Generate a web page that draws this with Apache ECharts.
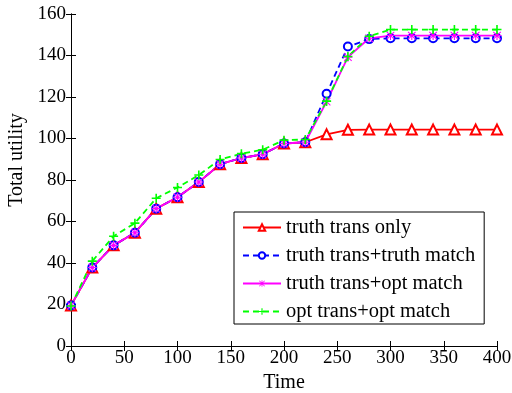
<!DOCTYPE html>
<html>
<head>
<meta charset="utf-8">
<script src="https://cdn.jsdelivr.net/npm/echarts@6/dist/echarts.min.js"></script>
<style>
  html, body { margin: 0; padding: 0; background: #fff; }
  #main { width: 512px; height: 393px; }
</style>
</head>
<body>
<div id="main"></div>
<script>
// time steps
var time = [0, 20, 40, 60, 80, 100, 120, 140, 160, 180, 200, 220, 240, 260, 280, 300, 320, 340, 360, 380, 400];

// total utility for each method
var truthTransOnly = [19.5, 37.8, 48.5, 54.6, 66.2, 71.7, 79, 87.6, 90.6, 92.4, 97.6, 98.2, 102, 104.2, 104.3, 104.3, 104.3, 104.3, 104.3, 104.3, 104.3];
var truthTransTruthMatch = [19.5, 37.8, 48.5, 54.6, 66.2, 71.7, 79, 87.6, 90.6, 92.4, 97.6, 98.2, 121.6, 144.3, 147.9, 148.3, 148.3, 148.3, 148.3, 148.3, 148.3];
var truthTransOptMatch = [19.5, 37.8, 48.5, 54.6, 66.2, 71.7, 79, 87.6, 90.6, 92.4, 97.6, 98.2, 117.8, 139.2, 148.3, 149.6, 149.6, 149.6, 149.6, 149.6, 149.6];
var optTransOptMatch = [19.3, 40.9, 52.9, 59.2, 71.2, 76.4, 82.4, 89.9, 92.7, 94.6, 99.2, 99.5, 118, 139.5, 149.3, 152.5, 152.5, 152.5, 152.5, 152.5, 152.5];

var names = ['truth trans only', 'truth trans+truth match', 'truth trans+opt match', 'opt trans+opt match'];

function pairs(ys) {
    return time.map(function(t, i) { return [t, ys[i]]; });
}

var font = 'Liberation Serif, Times New Roman, serif';
var asterisk = 'path://M4.4,0H5.6V10H4.4Z M0,4.4H10V5.6H0Z M1.2,0.4L5,4.2L8.8,0.4L9.6,1.2L5.8,5L9.6,8.8L8.8,9.6L5,5.8L1.2,9.6L0.4,8.8L4.2,5L0.4,1.2Z';
var plus = 'path://M4.1,0H5.9V4.1H10V5.9H5.9V10H4.1V5.9H0V4.1H4.1Z';

var axisCommon = {
    axisLine: { show: true, lineStyle: { color: '#000', width: 1 } },
    axisTick: { show: true, inside: true, length: 5, lineStyle: { color: '#000' } },
    splitLine: { show: false }
};

var option = {
    backgroundColor: '#fff',
    animation: false,
    grid: { left: 71, right: 15, top: 14, bottom: 47, containLabel: false, outerBoundsMode: 'none' },
    legend: {
        orient: 'vertical',
        left: 234,
        top: 212,
        borderColor: '#000',
        borderWidth: 1,
        padding: [5, 9, 2, 8],
        itemGap: 7,
        itemWidth: 38,
        itemHeight: 8,
        textStyle: { fontFamily: font, fontSize: 20.5, color: '#000' },
        data: names
    },
    xAxis: [
        Object.assign({
            type: 'value', min: 0, max: 400, interval: 50,
            name: 'Time', nameLocation: 'middle', nameGap: 27,
            nameTextStyle: { fontFamily: font, fontSize: 20, color: '#000' },
            axisLabel: { fontFamily: font, fontSize: 19, color: '#000', margin: 3 }
        }, axisCommon),
        Object.assign({
            type: 'value', min: 0, max: 400, interval: 50, position: 'top',
            axisLabel: { show: false }
        }, axisCommon)
    ],
    yAxis: [
        Object.assign({
            type: 'value', min: 0, max: 160, interval: 20,
            name: 'Total utility', nameLocation: 'middle', nameGap: 42,
            nameTextStyle: { fontFamily: font, fontSize: 20, color: '#000', padding: [0, 0, 0, 40] },
            axisLabel: { fontFamily: font, fontSize: 19, color: '#000', margin: 5 }
        }, axisCommon),
        Object.assign({
            type: 'value', min: 0, max: 160, interval: 20, position: 'right',
            axisLabel: { show: false }
        }, axisCommon)
    ],
    series: [
        {
            name: names[0], type: 'line', data: pairs(truthTransOnly),
            symbol: 'emptyTriangle', symbolSize: 10,
            lineStyle: { color: '#ff0000', width: 1.8 },
            itemStyle: { color: '#ff0000', borderWidth: 1.5 }
        },
        {
            name: names[1], type: 'line', data: pairs(truthTransTruthMatch),
            symbol: 'emptyCircle', symbolSize: 8,
            lineStyle: { color: '#0000ff', width: 1.8, type: [6, 4] },
            itemStyle: { color: '#0000ff', borderWidth: 1.5 }
        },
        {
            name: names[2], type: 'line', data: pairs(truthTransOptMatch),
            symbol: asterisk, symbolSize: 9,
            lineStyle: { color: '#ff00ff', width: 1.8 },
            itemStyle: { color: '#ff00ff' }
        },
        {
            name: names[3], type: 'line', data: pairs(optTransOptMatch),
            symbol: plus, symbolSize: 9,
            lineStyle: { color: '#00ff00', width: 1.8, type: [6, 4] },
            itemStyle: { color: '#00ff00' }
        }
    ]
};

var myChart = echarts.init(document.getElementById('main'), null, { renderer: 'canvas' });
myChart.setOption(option);
</script>
</body>
</html>
